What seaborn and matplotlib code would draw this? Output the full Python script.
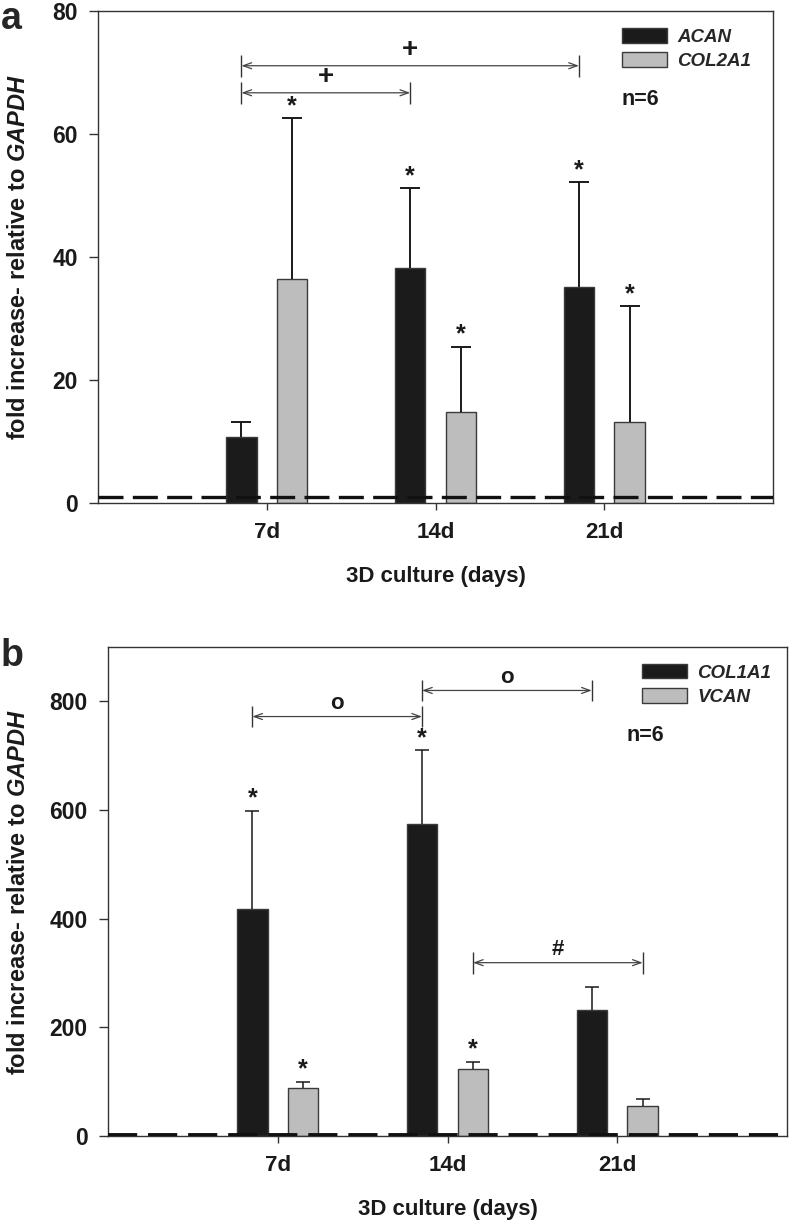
import pandas as pd
import seaborn as sns
import matplotlib.pyplot as plt

# panel a: chondrogenic markers (mean, SD upward only)
days = ["7d", "14d", "21d"]
genes_a = ["ACAN", "COL2A1"]
acan_mean = [10.8, 38.2, 35.1]
acan_sd = [2.4, 13.0, 17.1]
col2a1_mean = [36.4, 14.8, 13.1]
col2a1_sd = [26.2, 10.6, 18.9]
stars_a = {"ACAN": [False, True, True], "COL2A1": [True, True, True]}
# (gene, from day index, to day index, y, symbol)
brackets_a = [("ACAN", 0, 2, 71.1, "+"), ("ACAN", 0, 1, 66.7, "+")]

# panel b: fibrous markers
genes_b = ["COL1A1", "VCAN"]
col1a1_mean = [418, 575, 231]
col1a1_sd = [181, 135, 44]
vcan_mean = [88, 123, 55]
vcan_sd = [12, 14, 13]
stars_b = {"COL1A1": [True, True, False], "VCAN": [True, True, False]}
brackets_b = [("COL1A1", 0, 1, 772, "o"), ("COL1A1", 1, 2, 820, "o"),
              ("VCAN", 1, 2, 319, "#")]

BLACK = "#1b1b1b"
GREY = "#bdbdbd"

sns.set_theme(style="ticks")
plt.rcParams['font.family'] = ['Liberation Sans', 'DejaVu Sans']
plt.rcParams['font.weight'] = 'bold'
plt.rcParams['mathtext.fontset'] = 'custom'
plt.rcParams['mathtext.it'] = 'Liberation Sans:italic:bold'
plt.rcParams['mathtext.rm'] = 'Liberation Sans:bold'


def make_df(genes, means, sds):
    rows = []
    for g, m, s in zip(genes, means, sds):
        for d, mv, sv in zip(days, m, s):
            rows.append({"day": d, "gene": g, "mean": mv, "sd": sv})
    return pd.DataFrame(rows)


def draw_panel(ax, df, genes, stars, brackets, ymax, yticks, capsize, elw,
               dash_y, dash_lw, tick_half, sym_size, leg_xy, n_xy):
    sns.barplot(data=df, x="day", y="mean", hue="gene", order=days,
                hue_order=genes, palette=[BLACK, GREY], saturation=1,
                width=0.6, gap=0.4, errorbar=None, edgecolor="#3a3a3a",
                linewidth=1, ax=ax)

    # centres of the bars, per gene
    centres = {}
    for g, cont in zip(genes, ax.containers):
        centres[g] = [b.get_x() + b.get_width() / 2 for b in cont]
        sub = df[df.gene == g]
        tops = (sub["mean"] + sub["sd"]).tolist()
        eb = ax.errorbar(centres[g], sub["mean"],
                         yerr=[[0] * 3, sub["sd"].tolist()],
                         fmt="none", ecolor="#1a1a1a", elinewidth=elw,
                         capsize=capsize, capthick=elw, zorder=3)
        eb[1][0].set_visible(False)  # no cap on the bar top
        for x, t, s in zip(centres[g], tops, stars[g]):
            if s:
                ax.annotate("*", (x, t), xytext=(0, 0), textcoords="offset points",
                            ha="center", va="bottom", fontsize=18,
                            fontweight="bold", color="#1a1a1a")

    ax.axhline(dash_y, color="#111111", lw=dash_lw, ls=(0, (7.5, 2.8)), zorder=4)

    for g, i0, i1, y, sym in brackets:
        x0, x1 = centres[g][i0], centres[g][i1]
        ax.annotate("", xy=(x1, y), xytext=(x0, y),
                    arrowprops=dict(arrowstyle="<->,head_length=0.5,head_width=0.18",
                                    color="#444444", lw=0.9,
                                    shrinkA=0, shrinkB=0))
        ax.vlines([x0, x1], y - tick_half, y + tick_half, color="#333333", lw=1)
        ax.annotate(sym, ((x0 + x1) / 2, y), xytext=(0, 2),
                    textcoords="offset points", ha="center", va="bottom",
                    fontsize=sym_size, fontweight="bold", color="#1a1a1a")

    ax.set_xlim(-1, 3)
    ax.set_ylim(0, ymax)
    ax.set_yticks(yticks)
    for s in ax.spines.values():
        s.set_visible(True)
        s.set_color("#333333")
        s.set_linewidth(1)
    ax.tick_params(axis="y", length=6.5, width=1, pad=8, labelsize=16.5,
                   color="#333333")
    ax.tick_params(axis="x", length=5, width=1, pad=9, labelsize=16,
                   color="#333333")
    for lab in ax.get_xticklabels() + ax.get_yticklabels():
        lab.set_fontweight("bold")
        lab.set_color("#1a1a1a")

    ax.set_xlabel("3D culture (days)", fontsize=16, fontweight="bold",
                  color="#1a1a1a", labelpad=16)
    ax.set_ylabel(r"fold increase- relative to $\mathit{GAPDH}$", fontsize=17,
                  fontweight="bold", color="#1a1a1a")

    leg = ax.get_legend()
    handles = leg.legend_handles
    labels = [t.get_text() for t in leg.get_texts()]
    ax.legend(handles, labels, loc="upper left", bbox_to_anchor=leg_xy,
              frameon=False, borderpad=0, borderaxespad=0,
              handlelength=2.4, handleheight=0.8, handletextpad=0.55,
              labelspacing=0.35,
              prop=dict(family="Liberation Sans", style="italic",
                        weight="bold", size=13.5))
    ax.text(n_xy[0], n_xy[1], "n=6", transform=ax.transAxes, ha="left",
            va="center", fontsize=15.5, fontweight="bold", color="#1a1a1a")


fig = plt.figure(figsize=(7.92, 12.29), dpi=100)

ax_a = fig.add_axes([98 / 792, 1 - 503 / 1229, 675 / 792, 492 / 1229])
df_a = make_df(genes_a, [acan_mean, col2a1_mean], [acan_sd, col2a1_sd])
draw_panel(ax_a, df_a, genes_a, stars_a, brackets_a, 80, [0, 20, 40, 60, 80],
           capsize=7, elw=1.4, dash_y=1, dash_lw=2.4, tick_half=1.8,
           sym_size=20, leg_xy=(0.776, 0.965), n_xy=(0.776, 0.821))
ax_a.yaxis.set_label_coords(-0.1, 0.5)

ax_b = fig.add_axes([108 / 792, 1 - 1136 / 1229, 679 / 792, 489 / 1229])
df_b = make_df(genes_b, [col1a1_mean, vcan_mean], [col1a1_sd, vcan_sd])
draw_panel(ax_b, df_b, genes_b, stars_b, brackets_b, 900,
           [0, 200, 400, 600, 800], capsize=4.7, elw=1.1, dash_y=1,
           dash_lw=2.8, tick_half=20, sym_size=16, leg_xy=(0.786, 0.965),
           n_xy=(0.764, 0.820))
ax_b.yaxis.set_label_coords(-0.115, 0.5)

fig.text(0.001, 0.999, "a", fontsize=27, fontweight="bold", ha="left", va="top")
fig.text(0.001, 1 - 638 / 1229, "b", fontsize=27, fontweight="bold",
         ha="left", va="top")

fig.savefig("out.png", dpi=100)
